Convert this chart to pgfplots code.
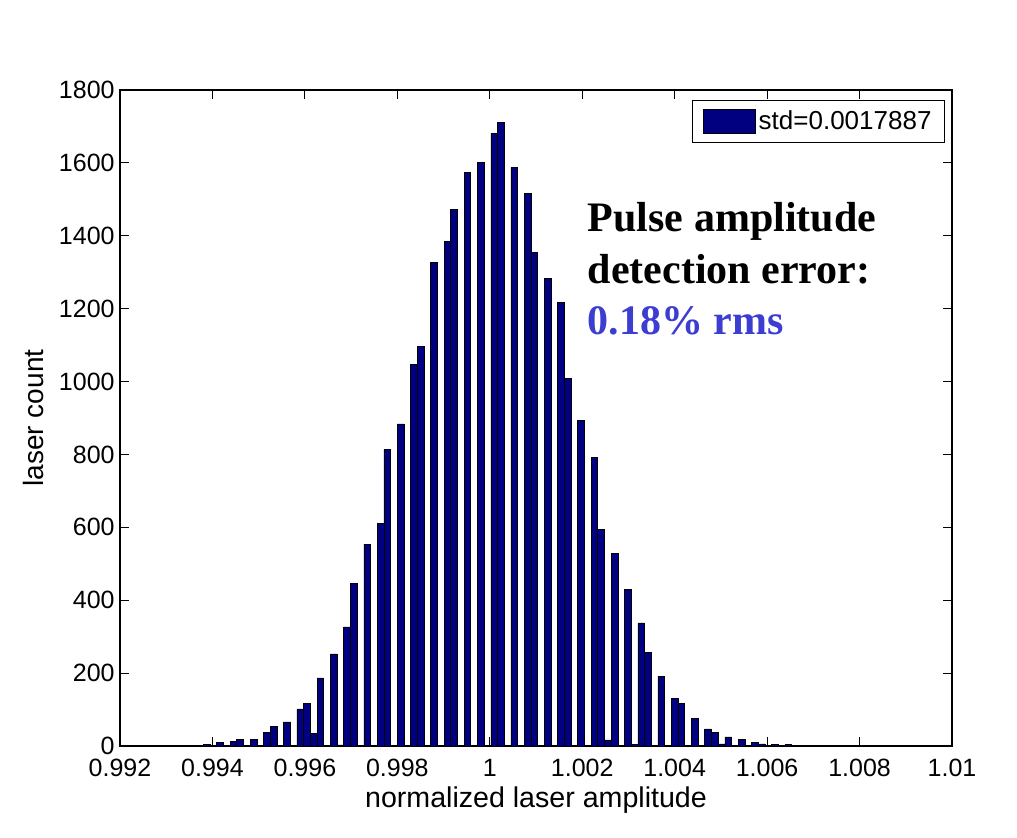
\documentclass[border=0pt]{standalone}
\usepackage{fontspec}
\setmainfont{Liberation Sans}
\newfontfamily\timesfont{Liberation Serif}
\usepackage{pgfplots}
\pgfplotsset{compat=1.18}
\definecolor{barblue}{RGB}{0,0,128}
\definecolor{rmsblue}{RGB}{60,62,210}
\pgfplotstableread{
x y
0.9937313 2
0.9938759 5
0.9941652 9
0.9944545 12
0.9945991 19
0.9948883 19
0.9951776 38
0.9953222 54
0.9956115 66
0.9959008 102
0.9960454 116
0.9961900 34
0.9963346 187
0.9966239 253
0.9967685 3
0.9969132 327
0.9970578 447
0.9973471 554
0.9976363 611
0.9977809 814
0.9980702 884
0.9983595 1048
0.9985041 1097
0.9987934 1327
0.9990826 1384
0.9992272 1473
0.9995165 1573
0.9998058 1601
1.0000950 1681
1.0002397 1711
1.0005289 1587
1.0008182 1516
1.0009628 1355
1.0012521 1284
1.0015413 1217
1.0016860 1008
1.0019752 894
1.0022645 793
1.0024091 594
1.0025537 17
1.0026984 528
1.0029876 429
1.0031323 5
1.0032769 338
1.0034215 256
1.0037108 192
1.0040000 130
1.0041447 118
1.0044339 75
1.0047232 47
1.0048678 37
1.0050124 6
1.0051571 25
1.0054463 19
1.0057356 11
1.0058802 6
1.0060249 2
1.0061695 5
1.0064587 4
}\histdata
\begin{document}
\begin{tikzpicture}
\useasboundingbox (-60pt,-45.5pt) rectangle (448.5pt,373pt);
\begin{axis}[
  at={(0,0)}, anchor=south west,
  scale only axis, width=416pt, height=328pt,
  xmin=0.992, xmax=1.01, ymin=0, ymax=1800,
  xtick={0.992,0.994,0.996,0.998,1,1.002,1.004,1.006,1.008,1.01},
  xticklabels={0.992,0.994,0.996,0.998,1,1.002,1.004,1.006,1.008,1.01},
  ytick={0,200,400,600,800,1000,1200,1400,1600,1800},
  /pgf/number format/assume math mode=true,
  /pgf/number format/1000 sep={},
  tick align=inside, major tick length=4.5pt,
  tick style={black, line width=0.5pt},
  axis line style={black, line width=0.6pt},
  ticklabel style={font=\fontsize{12.5}{14}\selectfont},
  xticklabel style={inner ysep=0pt, yshift=-6.5pt},
  yticklabel style={inner ysep=0pt, inner xsep=2.5pt},
  xlabel={normalized laser amplitude},
  ylabel={laser count},
  every axis x label/.style={at={(axis description cs:0.5,-0.0934)}, anchor=base, font=\fontsize{14.3}{16}\selectfont},
  every axis y label/.style={at={(axis description cs:-0.0925,0.5)}, rotate=90, anchor=base, font=\fontsize{14}{16}\selectfont},
  legend style={at={(0.9916,0.9848)}, anchor=north east, draw=black, line width=0.5pt,
    font=\fontsize{13}{15}\selectfont, inner xsep=5pt, inner ysep=3.5pt,
    nodes={inner sep=1.5pt}, legend cell align=left},
  legend image code/.code={\draw[#1, line width=0.4pt] (0pt,-6pt) rectangle (26pt,6pt);},
  clip=false,
]
\addplot[ybar, bar width=3.3425pt, fill=barblue, draw=black, line width=0.3pt] table[x=x,y=y] {\histdata};
\addlegendentry{std=0.0017887}
\node[anchor=base west, font=\timesfont\bfseries\fontsize{21}{25}\selectfont] at (axis cs:1.00197,1411) {Pulse amplitude};
\node[anchor=base west, font=\timesfont\bfseries\fontsize{21}{25}\selectfont] at (axis cs:1.00197,1270) {detection error:};
\node[anchor=base west, font=\timesfont\bfseries\fontsize{21}{25}\selectfont, text=rmsblue] at (axis cs:1.00197,1128) {0.18\% rms};
\end{axis}
\end{tikzpicture}
\end{document}
